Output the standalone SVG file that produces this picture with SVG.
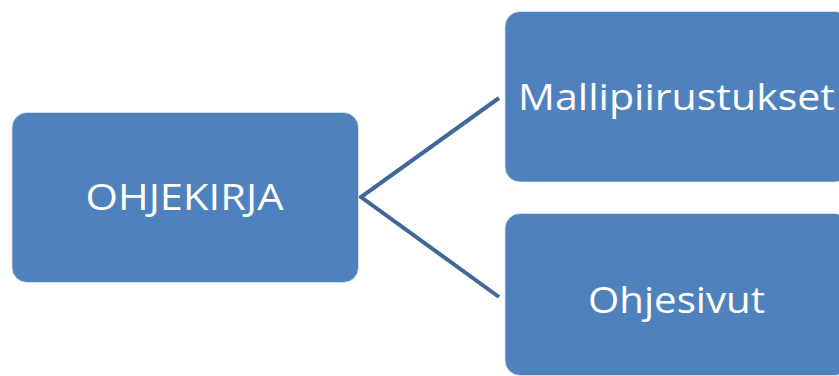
<svg xmlns="http://www.w3.org/2000/svg" width="839" height="376" viewBox="0 0 839 376">
<style>
.box{fill:#4f81bd;stroke:#dbe5f1;stroke-width:0.8}
.lbl{fill:#ffffff;font-family:"Open Sans","Liberation Sans",sans-serif;font-size:36px;text-anchor:middle}
.conn{stroke:#41689a;stroke-width:4;fill:none}
</style>
<rect width="839" height="376" fill="#ffffff"/>
<g id="connectors">
<path class="conn" d="M499,98 L361,197 L499,297"/>
</g>
<g id="ohjekirja">
<rect class="box" x="12" y="112.5" width="346.5" height="170" rx="15"/>
<text class="lbl" x="184.5" y="209.5" textLength="198" lengthAdjust="spacingAndGlyphs">OHJEKIRJA</text>
</g>
<g id="mallipiirustukset">
<rect class="box" x="505" y="11.5" width="345" height="170.5" rx="15"/>
<text class="lbl" x="676.5" y="109.5" textLength="317" lengthAdjust="spacingAndGlyphs">Mallipiirustukset</text>
</g>
<g id="ohjesivut">
<rect class="box" x="505" y="213.5" width="345" height="162" rx="15"/>
<text class="lbl" x="676.5" y="313" textLength="177" lengthAdjust="spacingAndGlyphs">Ohjesivut</text>
</g>
</svg>
